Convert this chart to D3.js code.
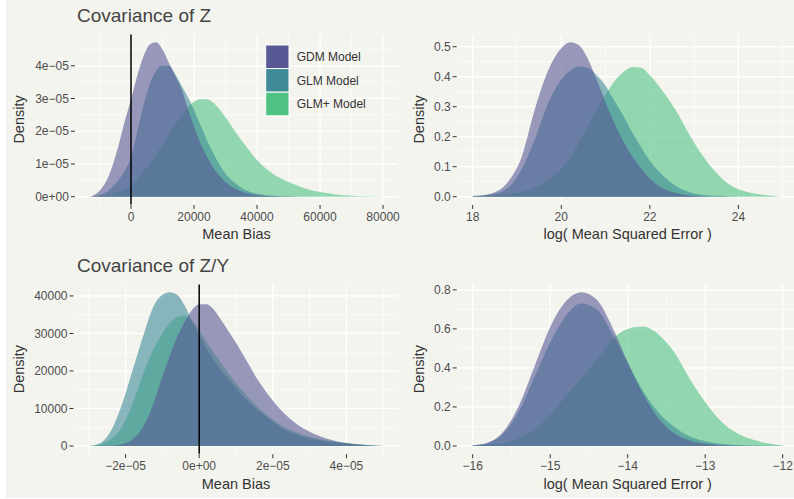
<!DOCTYPE html>
<html>
<head>
<meta charset="utf-8">
<script src="https://cdn.jsdelivr.net/npm/d3@7"></script>
<style>
  body { margin: 0; background: #fff; }
  svg { display: block; font-family: 'Liberation Sans', Arial, sans-serif; }
</style>
</head>
<body>
<svg id="chart" width="794" height="499"></svg>
<script>
const MODELS = ['GDM Model', 'GLM Model', 'GLM+ Model'];
const MODEL_COLORS = ['#575894', '#3e8b97', '#4fc283'];
const FILL_OPACITY = 0.6;

// Covariance of Z -- mean bias (densities in units of 1e-5)
const zBiasX = [-13000, -10000, -7000, -4000, -2000, 0, 2000, 4000, 6000, 8000, 10000, 12000,
  14000, 16000, 18000, 20000, 22000, 24000, 26000, 28000, 30000, 33000, 36000, 40000,
  45000, 50000, 55000, 60000, 65000, 70000, 75000, 80000];
const zBiasGDM = [0, 0.18, 0.65, 1.55, 2.3, 2.97, 3.7, 4.3, 4.65, 4.72, 4.5, 4.1,
  3.7, 3.3, 2.7, 2.15, 1.65, 1.25, 0.9, 0.65, 0.45, 0.25, 0.13, 0.05,
  0.015, 0, 0, 0, 0, 0, 0, 0];
const zBiasGLM = [0, 0.05, 0.2, 0.5, 0.8, 1.2, 2.0, 2.8, 3.45, 3.85, 4.0, 4.0,
  3.75, 3.4, 3.05, 2.65, 2.2, 1.75, 1.35, 1.0, 0.7, 0.42, 0.22, 0.09,
  0.03, 0.01, 0, 0, 0, 0, 0, 0];
const zBiasGLMp = [0, 0.02, 0.06, 0.14, 0.22, 0.33, 0.55, 0.78, 1.0, 1.3, 1.6, 1.9,
  2.2, 2.48, 2.72, 2.9, 2.98, 2.98, 2.88, 2.68, 2.42, 2.0, 1.6, 1.12,
  0.7, 0.45, 0.26, 0.14, 0.07, 0.03, 0.01, 0];
const zBiasXTicks = [0, 20000, 40000, 60000, 80000];
const zBiasYTicks = [0, 1e-5, 2e-5, 3e-5, 4e-5];

// Covariance of Z -- log(MSE)
const zMseX = [18, 18.4, 18.8, 19.1, 19.4, 19.7, 20.0, 20.2, 20.4, 20.6, 20.8, 21.0, 21.2,
  21.4, 21.6, 21.8, 22.0, 22.3, 22.6, 22.9, 23.2, 23.5, 23.8, 24.2, 24.6, 25.0];
const zMseGDM = [0.002, 0.01, 0.05, 0.13, 0.29, 0.42, 0.495, 0.515, 0.505, 0.46, 0.39, 0.315, 0.245,
  0.185, 0.135, 0.095, 0.06, 0.027, 0.012, 0.004, 0.001, 0, 0, 0, 0, 0];
const zMseGLM = [0.002, 0.007, 0.03, 0.09, 0.19, 0.31, 0.39, 0.42, 0.434, 0.43, 0.405, 0.37, 0.32,
  0.27, 0.215, 0.165, 0.12, 0.07, 0.035, 0.015, 0.006, 0.003, 0.001, 0, 0, 0];
const zMseGLMp = [0, 0.002, 0.008, 0.016, 0.03, 0.055, 0.095, 0.13, 0.18, 0.235, 0.29, 0.34, 0.385,
  0.415, 0.432, 0.43, 0.405, 0.35, 0.285, 0.205, 0.135, 0.08, 0.04, 0.016, 0.006, 0];
const zMseXTicks = [18, 20, 22, 24];
const zMseYTicks = [0, 0.1, 0.2, 0.3, 0.4, 0.5];

// Covariance of Z/Y -- mean bias
const zyBiasX = [-3.0e-5, -2.7e-5, -2.4e-5, -2.1e-5, -1.8e-5, -1.5e-5, -1.25e-5, -1.0e-5, -0.8e-5,
  -0.6e-5, -0.4e-5, -0.2e-5, 0, 0.2e-5, 0.4e-5, 0.6e-5, 0.8e-5, 1.0e-5, 1.3e-5, 1.6e-5,
  1.9e-5, 2.2e-5, 2.6e-5, 3.0e-5, 3.5e-5, 4.0e-5, 4.5e-5, 5.0e-5];
const zyBiasGDM = [0, 0, 100, 500, 1800, 5500, 11000, 18500, 24000,
  29000, 33000, 36200, 37800, 37800, 36300, 33500, 30500, 27500, 22500, 17500,
  13300, 9800, 6200, 3800, 1900, 800, 300, 0];
const zyBiasGLM = [0, 700, 4000, 11000, 20500, 30000, 37000, 40300, 41000,
  40300, 37500, 33500, 29500, 26000, 23000, 20200, 17700, 15300, 12200, 9500,
  7200, 5100, 3200, 2000, 1200, 700, 300, 0];
const zyBiasGLMp = [0, 400, 1900, 5000, 11500, 19800, 25600, 30000, 32800,
  34300, 34800, 33500, 31000, 27800, 24800, 22000, 19200, 16700, 13300, 10300,
  7800, 5700, 3800, 2500, 1400, 800, 350, 0];
const zyBiasXTicks = [-2e-5, 0, 2e-5, 4e-5];
const zyBiasYTicks = [0, 10000, 20000, 30000, 40000];

// Covariance of Z/Y -- log(MSE)
const zyMseX = [-16, -15.8, -15.6, -15.4, -15.2, -15.0, -14.8, -14.6, -14.4, -14.2, -14.0,
  -13.8, -13.6, -13.4, -13.2, -13.0, -12.8, -12.6, -12.4, -12.2, -12.0];
const zyMseGDM = [0.003, 0.018, 0.075, 0.21, 0.41, 0.61, 0.74, 0.788, 0.75, 0.61, 0.43,
  0.265, 0.14, 0.065, 0.028, 0.011, 0.004, 0.001, 0, 0, 0];
const zyMseGLM = [0.003, 0.015, 0.065, 0.18, 0.355, 0.53, 0.665, 0.73, 0.70, 0.575, 0.425,
  0.28, 0.17, 0.098, 0.05, 0.024, 0.011, 0.005, 0.002, 0.001, 0];
const zyMseGLMp = [0.001, 0.006, 0.016, 0.04, 0.085, 0.16, 0.255, 0.345, 0.44, 0.545, 0.60,
  0.612, 0.57, 0.48, 0.345, 0.225, 0.128, 0.068, 0.034, 0.014, 0.003];
const zyMseXTicks = [-16, -15, -14, -13, -12];
const zyMseYTicks = [0, 0.2, 0.4, 0.6, 0.8];

const MINUS = '\u2212';
const sci = (v) => {
  if (v === 0) return '0e+00';
  let e = Math.floor(Math.log10(Math.abs(v)) + 1e-9);
  let m = Math.round(v / Math.pow(10, e));
  return (m < 0 ? MINUS : '') + Math.abs(m) + 'e' + (e < 0 ? MINUS : '+') + String(Math.abs(e)).padStart(2, '0');
};
const plain = (v) => (v < 0 ? MINUS : '') + Math.abs(v);
const oneDec = (v) => d3.format('.1f')(v);

// panel boxes in pixels: left, right, top, bottom
const panels = [
  { title: 'Covariance of Z', xLabel: 'Mean Bias', x: zBiasX, ys: [zBiasGDM, zBiasGLM, zBiasGLMp], unit: 1e-5,
    xTicks: zBiasXTicks, yTicks: zBiasYTicks, xFmt: plain, yFmt: sci, vline: true, legend: true,
    box: [75.4, 397.7, 34.5, 204.4], titleY: 22, densityX: 24 },
  { title: null, xLabel: 'log( Mean Squared Error )', x: zMseX, ys: [zMseGDM, zMseGLM, zMseGLMp], unit: 1,
    xTicks: zMseXTicks, yTicks: zMseYTicks, xFmt: plain, yFmt: oneDec, vline: false, legend: false,
    box: [457.2, 798.2, 34.5, 204.4], densityX: 424 },
  { title: 'Covariance of Z/Y', xLabel: 'Mean Bias', x: zyBiasX, ys: [zyBiasGDM, zyBiasGLM, zyBiasGLMp], unit: 1,
    xTicks: zyBiasXTicks, yTicks: zyBiasYTicks, xFmt: sci, yFmt: plain, vline: true, legend: false,
    box: [74, 398, 284.5, 453.7], titleY: 272, densityX: 24 },
  { title: null, xLabel: 'log( Mean Squared Error )', x: zyMseX, ys: [zyMseGDM, zyMseGLM, zyMseGLMp], unit: 1,
    xTicks: zyMseXTicks, yTicks: zyMseYTicks, xFmt: plain, yFmt: oneDec, vline: false, legend: false,
    box: [457.2, 798.2, 284.5, 453.7], densityX: 424 },
];

const svg = d3.select('#chart');

svg.append('rect')
  .attr('x', 6).attr('y', 0)
  .attr('width', 788).attr('height', 498)
  .attr('fill', '#f4f4ef');

const expand = (lo, hi) => {
  let pad = (hi - lo) * 0.05;
  return [lo - pad, hi + pad];
};

const minorBreaks = (ticks, domain) => {
  let step = ticks[1] - ticks[0];
  let out = [];
  for (let t = ticks[0] - step / 2; t <= domain[1]; t += step) {
    if (t >= domain[0]) out.push(t);
  }
  return out;
};

panels.forEach((p) => {
  let [left, right, top, bottom] = p.box;
  let series = p.ys.map((ys, k) => ({
    k: k,
    pts: p.x.map((xv, i) => [xv, ys[i] * p.unit]),
  }));
  let yMax = d3.max(series, (s) => d3.max(s.pts, (d) => d[1]));

  let x = d3.scaleLinear()
    .domain(expand(d3.min(p.x), d3.max(p.x)))
    .range([left, right]);
  let y = d3.scaleLinear()
    .domain(expand(0, yMax))
    .range([bottom, top]);

  let g = svg.append('g');

  // grid
  let grid = g.append('g').attr('stroke', '#ffffff').attr('fill', 'none');
  minorBreaks(p.yTicks, y.domain()).forEach((t) => {
    grid.append('line')
      .attr('x1', left).attr('x2', right)
      .attr('y1', y(t)).attr('y2', y(t))
      .attr('stroke-width', 0.6);
  });
  minorBreaks(p.xTicks, x.domain()).forEach((t) => {
    grid.append('line')
      .attr('x1', x(t)).attr('x2', x(t))
      .attr('y1', top).attr('y2', bottom)
      .attr('stroke-width', 0.6);
  });
  p.yTicks.forEach((t) => {
    grid.append('line')
      .attr('x1', left).attr('x2', right)
      .attr('y1', y(t)).attr('y2', y(t))
      .attr('stroke-width', 1.2);
  });
  p.xTicks.forEach((t) => {
    grid.append('line')
      .attr('x1', x(t)).attr('x2', x(t))
      .attr('y1', top).attr('y2', bottom)
      .attr('stroke-width', 1.2);
  });

  // densities: GLM+ underneath, GDM on top
  let area = d3.area()
    .x((d) => x(d[0]))
    .y0(y(0))
    .y1((d) => y(d[1]))
    .curve(d3.curveMonotoneX);

  g.selectAll('.density')
    .data(series.slice().reverse())
    .enter().append('path')
    .attr('class', 'density')
    .attr('d', (d) => area(d.pts))
    .attr('fill', (d) => MODEL_COLORS[d.k])
    .attr('fill-opacity', FILL_OPACITY)
    .attr('stroke', 'none')
  ;

  if (p.vline) {
    g.append('line')
      .attr('x1', x(0)).attr('x2', x(0))
      .attr('y1', top).attr('y2', bottom)
      .attr('stroke', '#000')
      .attr('stroke-width', 1.5);
  }

  // axes
  let yAxis = g.append('g');
  p.yTicks.forEach((t) => {
    yAxis.append('line')
      .attr('x1', left - 4.5).attr('x2', left - 0.5)
      .attr('y1', y(t)).attr('y2', y(t))
      .attr('stroke', '#333').attr('stroke-width', 1);
    yAxis.append('text')
      .attr('x', left - 6.5)
      .attr('y', y(t))
      .attr('dy', '0.35em')
      .attr('text-anchor', 'end')
      .attr('font-size', 12)
      .attr('fill', '#4d4d4d')
      .text(p.yFmt(t));
  });
  let xAxis = g.append('g');
  p.xTicks.forEach((t) => {
    xAxis.append('line')
      .attr('x1', x(t)).attr('x2', x(t))
      .attr('y1', bottom + 0.5).attr('y2', bottom + 4.5)
      .attr('stroke', '#333').attr('stroke-width', 1);
    xAxis.append('text')
      .attr('x', x(t))
      .attr('y', bottom + 16.5)
      .attr('text-anchor', 'middle')
      .attr('font-size', 12)
      .attr('fill', '#4d4d4d')
      .text(p.xFmt(t));
  });

  g.append('text')
    .attr('x', (left + right) / 2)
    .attr('y', bottom + 35)
    .attr('text-anchor', 'middle')
    .attr('font-size', 14.5)
    .attr('fill', '#333')
    .text(p.xLabel);

  g.append('text')
    .attr('transform', 'translate(' + p.densityX + ',' + (top + bottom) / 2 + ') rotate(-90)')
    .attr('text-anchor', 'middle')
    .attr('font-size', 14.5)
    .attr('fill', '#333')
    .text('Density');

  if (p.title) {
    g.append('text')
      .attr('x', 77)
      .attr('y', p.titleY)
      .attr('font-size', 19)
      .attr('fill', '#444')
      .text(p.title);
  }

  if (p.legend) {
    let lg = g.append('g').attr('transform', 'translate(265.7,45)');
    MODELS.forEach((m, i) => {
      lg.append('rect')
        .attr('x', 0).attr('y', i * 23.6)
        .attr('width', 23.3).attr('height', 23.6)
        .attr('fill', MODEL_COLORS[i])
        .attr('stroke', '#fff')
        .attr('stroke-width', 1);
      lg.append('text')
        .attr('x', 31).attr('y', i * 23.6 + 11.8)
        .attr('dy', '0.35em')
        .attr('font-size', 12)
        .attr('fill', '#333')
        .text(m);
    });
  }
});
</script>
</body>
</html>
